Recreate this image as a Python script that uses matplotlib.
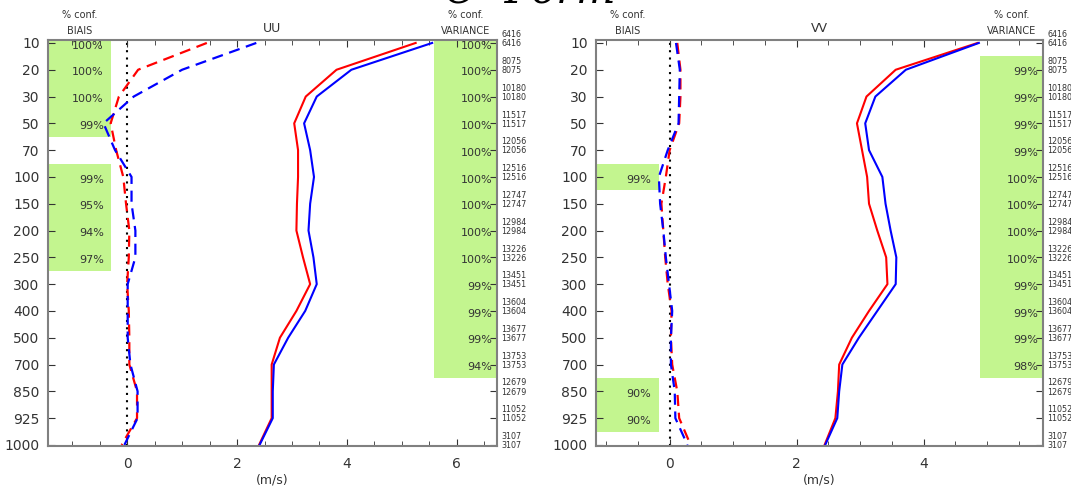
import matplotlib
matplotlib.use("Agg")
import matplotlib.pyplot as plt
import matplotlib.transforms as mtransforms
import numpy as np

# pressure levels (hPa), plotted on an index axis
levels = [10, 20, 30, 50, 70, 100, 150, 200, 250, 300, 400, 500, 700, 850, 925, 1000]
counts = [6416, 8075, 10180, 11517, 12056, 12516, 12747, 12984, 13226, 13451,
          13604, 13677, 13753, 12679, 11052, 3107]

# UU : std dev (solid) and bias (dashed), red / blue experiments
uu_std_red = [5.25, 3.81, 3.25, 3.04, 3.11, 3.11, 3.09, 3.08, 3.20, 3.33, 3.08, 2.78, 2.63, 2.63, 2.63, 2.40]
uu_std_blue = [5.55, 4.08, 3.45, 3.22, 3.33, 3.40, 3.33, 3.30, 3.39, 3.45, 3.24, 2.93, 2.67, 2.65, 2.65, 2.41]
uu_bias_red = [1.45, 0.20, -0.15, -0.30, -0.20, -0.07, -0.02, 0.04, 0.03, 0.00, 0.03, 0.04, 0.04, 0.18, 0.18, -0.10]
uu_bias_blue = [2.35, 1.00, 0.12, -0.43, -0.22, 0.08, 0.08, 0.15, 0.15, 0.01, 0.01, 0.01, 0.06, 0.19, 0.19, -0.05]

# VV
vv_std_red = [4.85, 3.56, 3.10, 2.95, 3.03, 3.11, 3.14, 3.27, 3.41, 3.43, 3.14, 2.87, 2.67, 2.65, 2.61, 2.44]
vv_std_blue = [4.87, 3.72, 3.24, 3.08, 3.14, 3.35, 3.40, 3.48, 3.57, 3.56, 3.27, 2.98, 2.72, 2.67, 2.64, 2.45]
vv_bias_red = [0.12, 0.17, 0.17, 0.15, 0.00, -0.06, -0.13, -0.10, -0.07, -0.03, 0.03, 0.02, 0.04, 0.12, 0.15, 0.33]
vv_bias_blue = [0.10, 0.16, 0.15, 0.14, -0.03, -0.17, -0.15, -0.10, -0.06, -0.01, 0.04, 0.02, 0.02, 0.08, 0.09, 0.28]

# confidence boxes: level index -> percent
uu_conf_bias = {0: 100, 1: 100, 2: 100, 3: 99, 5: 99, 6: 95, 7: 94, 8: 97}
uu_conf_var = {0: 100, 1: 100, 2: 100, 3: 100, 4: 100, 5: 100, 6: 100, 7: 100, 8: 100,
               9: 99, 10: 99, 11: 99, 12: 94}
vv_conf_bias = {5: 99, 13: 90, 14: 90}
vv_conf_var = {1: 99, 2: 99, 3: 99, 4: 99, 5: 100, 6: 100, 7: 100, 8: 100,
               9: 99, 10: 99, 11: 99, 12: 98}

GREEN = "#c3f58f"
GRAY = "#808080"
TXT = "#333333"

fig = plt.figure(figsize=(10.71, 4.90), dpi=100)


def panel(rect, title, xlim, xticks, std_r, std_b, bias_r, bias_b, conf_b, conf_v):
    ax = fig.add_axes(rect)
    y = np.arange(len(levels))
    trans = mtransforms.blended_transform_factory(ax.transAxes, ax.transData)
    boxw = 0.14
    for i, p in conf_b.items():
        ax.add_patch(plt.Rectangle((0, i - 0.5), boxw, 1, transform=trans,
                                   color=GREEN, lw=0, zorder=0))
        ax.text(boxw - 0.016, i + 0.1, "%d%%" % p, transform=trans, ha="right",
                va="center", fontsize=8, color=TXT)
    for i, p in conf_v.items():
        ax.add_patch(plt.Rectangle((1 - boxw, i - 0.5), boxw, 1, transform=trans,
                                   color=GREEN, lw=0, zorder=0))
        ax.text(0.99, i + 0.1, "%d%%" % p, transform=trans, ha="right",
                va="center", fontsize=8, color=TXT)

    ax.axvline(0, color="k", lw=1.5, ls=(0, (1, 2.5)), zorder=1)
    ax.plot(std_r, y, color="red", lw=1.5)
    ax.plot(std_b, y, color="blue", lw=1.5)
    ax.plot(bias_r, y, color="red", lw=1.6, ls=(0, (5, 3)))
    ax.plot(bias_b, y, color="blue", lw=1.6, ls=(0, (5, 3)))

    ax.set_xlim(*xlim)
    ax.set_ylim(15.04, -0.11)
    ax.set_yticks(y)
    ax.set_yticklabels([str(l) for l in levels])
    ax.set_xticks(xticks)
    ax.set_xticks(np.arange(-1.0, xlim[1], 0.5), minor=True)
    ax.tick_params(axis="y", direction="in", length=5, right=True, labelsize=10,
                   labelcolor=TXT, color=TXT, pad=6)
    ax.tick_params(axis="x", which="both", direction="in", top=True, labelsize=10,
                   labelcolor=TXT, color=TXT, pad=8)
    ax.tick_params(axis="x", which="major", length=5)
    ax.tick_params(axis="x", which="minor", length=3.5)
    for s in ax.spines.values():
        s.set_color(GRAY)
        s.set_linewidth(1.5)
    ax.set_xlabel("(m/s)", fontsize=9, color=TXT, labelpad=2)

    # sample counts on right side
    t1 = mtransforms.offset_copy(trans, fig=fig, x=3, y=6, units="points")
    t2 = mtransforms.offset_copy(trans, fig=fig, x=3, y=-0.5, units="points")
    for i, c in enumerate(counts):
        ax.text(1, i, str(c), transform=t1, ha="left", va="center", fontsize=5.8,
                color=TXT, clip_on=False)
        ax.text(1, i, str(c), transform=t2, ha="left", va="center", fontsize=5.8,
                color=TXT, clip_on=False)

    ax.text(0.5, 1.012, title, transform=ax.transAxes, ha="center", va="bottom",
            fontsize=9, color=TXT)
    ax.text(0.07, 1.01, "BIAIS", transform=ax.transAxes, ha="center", va="bottom",
            fontsize=7, color=TXT)
    ax.text(0.07, 1.05, "% conf.", transform=ax.transAxes, ha="center", va="bottom",
            fontsize=7, color=TXT)
    ax.text(0.93, 1.01, "VARIANCE", transform=ax.transAxes, ha="center", va="bottom",
            fontsize=7, color=TXT)
    ax.text(0.93, 1.05, "% conf.", transform=ax.transAxes, ha="center", va="bottom",
            fontsize=7, color=TXT)
    return ax


panel([48 / 1071, 44 / 490, 449 / 1071, 406 / 490], "UU", (-1.44, 6.73), [0, 2, 4, 6],
      uu_std_red, uu_std_blue, uu_bias_red, uu_bias_blue, uu_conf_bias, uu_conf_var)
panel([596 / 1071, 44 / 490, 447 / 1071, 406 / 490], "VV", (-1.16, 5.88), [0, 2, 4],
      vv_std_red, vv_std_blue, vv_bias_red, vv_bias_blue, vv_conf_bias, vv_conf_var)

# big title, mostly cut off by the top edge
fig.text(0.415, 0.992, "O  Form", fontsize=30, family="DejaVu Serif", style="italic",
         ha="left", va="baseline", color="k")

fig.savefig("out.png", dpi=100)
